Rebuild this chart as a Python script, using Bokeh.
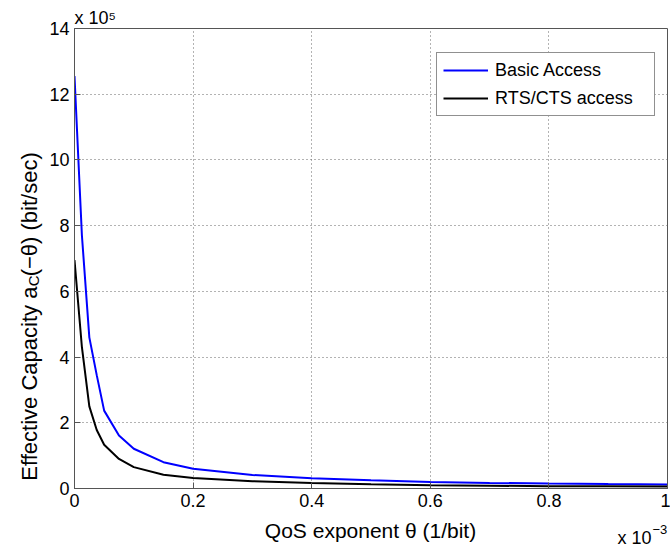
import math
from bokeh.plotting import figure
from bokeh.models import Legend, LegendItem, FixedTicker, Range1d, Title
from bokeh.layouts import column, row
from bokeh.core.properties import value
from bokeh.embed import file_html
from bokeh.resources import INLINE

# QoS exponent theta, in units of 1e-3 (1/bit)
theta = [0, 0.0125, 0.025, 0.0375, 0.05, 0.075, 0.1, 0.15, 0.2, 0.3, 0.4, 0.5, 0.6, 0.7, 0.8, 0.9, 1.0]
# Effective capacity, in units of 1e5 bit/sec
basic_access = [12.55, 7.7, 4.6, 3.45, 2.37, 1.61, 1.21, 0.80, 0.60, 0.41, 0.31, 0.25, 0.20, 0.17, 0.15, 0.135, 0.125]
rts_cts_access = [6.95, 4.3, 2.5, 1.78, 1.33, 0.90, 0.65, 0.42, 0.32, 0.22, 0.17, 0.13, 0.10, 0.085, 0.07, 0.065, 0.06]

x_ticks = [0, 0.2, 0.4, 0.6, 0.8, 1]
x_tick_labels = ["0", "0.2", "0.4", "0.6", "0.8", "1"]
y_ticks = [0, 2, 4, 6, 8, 10, 12, 14]
y_tick_labels = ["0", "2", "4", "6", "8", "10", "12", "14"]

series_names = ["Basic Access", "RTS/CTS access"]
x_label = "QoS exponent \u03b8 (1/bit)"
y_label_parts = ["Effective Capacity a", "C", "(\u2212\u03b8) (bit/sec)"]
y_multiplier = "x 10\u2075"
x_multiplier = ["x 10", "\u22123"]

FONT = "Liberation Sans"
AX = "#555555"


def blank_fig(w, h):
    f = figure(width=w, height=h, x_range=Range1d(0, w), y_range=Range1d(0, h),
               title=None, x_axis_location=None, y_axis_location=None,
               min_border=0, min_border_left=0, min_border_right=0,
               min_border_top=0, min_border_bottom=0,
               output_backend="svg", toolbar_location=None)
    f.outline_line_color = None
    f.grid.visible = False
    f.background_fill_color = "white"
    f.border_fill_color = "white"
    return f


# ---- main plot ----
p = figure(width=624, height=515, x_range=Range1d(0, 1), y_range=Range1d(0, 14),
           title=None, output_backend="svg", toolbar_location=None,
           min_border_left=27, min_border_right=3, min_border_top=28, min_border_bottom=27)
p.background_fill_color = "white"
p.border_fill_color = "white"
p.outline_line_color = AX
p.outline_line_width = 1

for ax, ticks, labels in ((p.xaxis[0], x_ticks, x_tick_labels), (p.yaxis[0], y_ticks, y_tick_labels)):
    ax.ticker = FixedTicker(ticks=ticks)
    ax.major_label_overrides = {t: l for t, l in zip(ticks, labels)}
    ax.major_label_text_font = FONT
    ax.major_label_text_font_size = "18px"
    ax.major_label_text_color = "black"
    ax.major_tick_in = 6
    ax.major_tick_out = 0
    ax.minor_tick_line_color = None
    ax.axis_line_color = AX
    ax.major_tick_line_color = AX
p.xaxis.major_label_standoff = 5
p.yaxis.major_label_standoff = 5

p.xgrid.ticker = FixedTicker(ticks=x_ticks)
p.ygrid.ticker = FixedTicker(ticks=y_ticks)
for g in (p.xgrid[0], p.ygrid[0]):
    g.grid_line_color = "#666666"
    g.grid_line_dash = "1 3"
    g.grid_line_width = 1

r1 = p.line(theta, basic_access, line_color="#0000ff", line_width=2)
r2 = p.line(theta, rts_cts_access, line_color="#000000", line_width=2)

legend = Legend(items=[LegendItem(label=series_names[0], renderers=[r1]),
                       LegendItem(label=series_names[1], renderers=[r2])],
                location=(362, 372))
legend.label_text_font = FONT
legend.label_text_font_size = "18px"
legend.label_text_color = "black"
legend.border_line_color = "#222222"
legend.border_line_width = 1
legend.background_fill_color = "white"
legend.background_fill_alpha = 1
legend.glyph_width = 45
legend.glyph_height = 22
legend.label_height = 22
legend.label_width = 153
legend.label_standoff = 7
legend.padding = 6
legend.spacing = 6
legend.margin = 0
p.add_layout(legend, "center")

p.add_layout(Title(text=y_multiplier, align="left", text_font=FONT, text_font_size="18px",
                   text_font_style="normal", text_color="black", standoff=2, offset=0), "above")

# ---- left strip: rotated y-axis label with subscript ----
left = blank_fig(46, 515)
ang = math.pi / 2
ya = 226  # end of "Effective Capacity a" (strip pixels from bottom)
left.text(x=[29], y=[ya], text=[y_label_parts[0]], angle=ang, text_font=value(FONT),
          text_font_size="22px", text_align="right", text_baseline="alphabetic", text_color="black")
left.text(x=[33], y=[ya + 0.5], text=[y_label_parts[1]], angle=ang, text_font=value(FONT),
          text_font_size="15px", text_align="left", text_baseline="alphabetic", text_color="black")
left.text(x=[29], y=[ya + 11.5], text=[y_label_parts[2]], angle=ang, text_font=value(FONT),
          text_font_size="22px", text_align="left", text_baseline="alphabetic", text_color="black")

# ---- bottom strip: x-axis label and exponent ----
bottom = blank_fig(670, 33)
bottom.text(x=[370], y=[18], text=[x_label], text_font=value(FONT), text_font_size="21px",
            text_align="center", text_baseline="alphabetic", text_color="black")
bottom.text(x=[617], y=[11], text=[x_multiplier[0]], text_font=value(FONT), text_font_size="18px",
            text_align="left", text_baseline="alphabetic", text_color="black")
bottom.text(x=[652], y=[19], text=[x_multiplier[1]], text_font=value(FONT), text_font_size="13px",
            text_align="left", text_baseline="alphabetic", text_color="black")

layout = column(row(left, p, spacing=0), bottom, spacing=0)
open("out.html", "w").write(file_html(layout, INLINE))
